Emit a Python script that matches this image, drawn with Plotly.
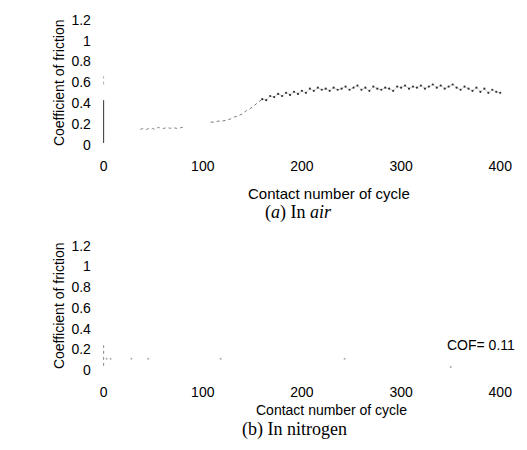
import plotly.graph_objects as go

# ---- data ----
# (a) In air
air_start_cycle = [0, 0, 0, 0]
air_start_cof = [0.02, 0.15, 0.30, 0.43]
air_start_dot_cycle = [0, 0]
air_start_dot_cof = [0.58, 0.66]

air_low_cycle = [37, 40, 43, 46, 49, 52, 55, 58, 61, 64, 67, 70, 73, 76, 79, 82]
air_low_cof = [0.15, 0.16, 0.15, 0.16, 0.16, 0.15, 0.17, 0.16, 0.16, 0.17, 0.16, 0.17, 0.16, 0.16, 0.17, 0.17]

air_rise_cycle = [108, 112, 116, 120, 124, 128, 132, 136, 140, 144, 148, 152, 156, 160]
air_rise_cof = [0.22, 0.22, 0.23, 0.23, 0.24, 0.25, 0.27, 0.28, 0.30, 0.33, 0.35, 0.38, 0.41, 0.44]

air_plateau_cycle = [160, 164, 168, 172, 176, 180, 184, 188, 192, 196, 200, 204, 208, 212, 216,
                     220, 224, 228, 232, 236, 240, 244, 248, 252, 256, 260, 264, 268, 272, 276,
                     280, 284, 288, 292, 296, 300, 304, 308, 312, 316, 320, 324, 328, 332, 336,
                     340, 344, 348, 352, 356, 360, 364, 368, 372, 376, 380, 384, 388, 392, 396, 400]
air_plateau_cof = [0.44, 0.43, 0.47, 0.46, 0.49, 0.47, 0.50, 0.48, 0.51, 0.49, 0.52, 0.50, 0.54, 0.52, 0.55,
                   0.53, 0.54, 0.52, 0.55, 0.53, 0.54, 0.56, 0.53, 0.55, 0.57, 0.53, 0.55, 0.52, 0.56, 0.54,
                   0.53, 0.55, 0.54, 0.52, 0.56, 0.55, 0.57, 0.54, 0.56, 0.55, 0.57, 0.54, 0.56, 0.58, 0.55,
                   0.57, 0.54, 0.56, 0.58, 0.55, 0.53, 0.56, 0.54, 0.52, 0.55, 0.51, 0.54, 0.50, 0.53, 0.51, 0.50]

# (b) In nitrogen
n2_start_cycle = [0, 0]
n2_start_cof = [0.04, 0.24]
n2_pts_cycle = [3, 7, 28, 45, 118, 243, 350]
n2_pts_cof = [0.11, 0.11, 0.11, 0.11, 0.11, 0.11, 0.03]

x_ticks = [0, 100, 200, 300, 400]
y_ticks = [0, 0.2, 0.4, 0.6, 0.8, 1, 1.2]
y_tick_text = ["0", "0.2", "0.4", "0.6", "0.8", "1", "1.2"]

cof_label = "COF= 0.11"

W, H = 527, 450

def py(px):
    return 1 - px / H

fig = go.Figure()

# top panel traces
fig.add_trace(go.Scatter(x=air_start_cycle, y=air_start_cof, mode="lines",
                         line=dict(color="#333", width=1), xaxis="x", yaxis="y"))
fig.add_trace(go.Scatter(x=air_start_dot_cycle, y=air_start_dot_cof, mode="lines",
                         line=dict(color="#aaa", width=1, dash="dot"), xaxis="x", yaxis="y"))
fig.add_trace(go.Scatter(x=air_low_cycle, y=air_low_cof, mode="lines",
                         line=dict(color="#888", width=1, dash="dot"), xaxis="x", yaxis="y"))
fig.add_trace(go.Scatter(x=air_rise_cycle, y=air_rise_cof, mode="lines",
                         line=dict(color="#777", width=1, dash="dot"), xaxis="x", yaxis="y"))
fig.add_trace(go.Scatter(x=air_plateau_cycle, y=air_plateau_cof, mode="lines+markers",
                         line=dict(color="#aaa", width=0.6),
                         marker=dict(color="#333", size=2.2), xaxis="x", yaxis="y"))

# bottom panel traces
fig.add_trace(go.Scatter(x=n2_start_cycle, y=n2_start_cof, mode="lines",
                         line=dict(color="#888", width=1, dash="dot"), xaxis="x2", yaxis="y2"))
fig.add_trace(go.Scatter(x=n2_pts_cycle, y=n2_pts_cof, mode="markers",
                         marker=dict(color="#aaa", size=2), xaxis="x2", yaxis="y2"))

tickfont = dict(family="Liberation Sans, Arial, sans-serif", size=14, color="black")

def xa(anchor, standoff):
    return dict(range=[-5, 405], anchor=anchor, tickvals=x_ticks, ticktext=[str(v) for v in x_ticks],
                showgrid=False, zeroline=False, showline=False, ticks="outside", ticklen=standoff,
                tickcolor="rgba(0,0,0,0)", tickfont=tickfont, domain=[100 / W, 512 / W])

def ya(anchor, d):
    return dict(range=[-0.05, 1.25], anchor=anchor, tickvals=y_ticks, ticktext=y_tick_text,
                showgrid=False, zeroline=False, showline=False, ticks="outside", ticklen=4,
                tickcolor="rgba(0,0,0,0)", tickfont=tickfont, domain=d)

fig.update_layout(
    width=W, height=H, margin=dict(l=0, r=0, t=0, b=0),
    paper_bgcolor="white", plot_bgcolor="white", showlegend=False,
    xaxis=xa("y", 3),
    yaxis=ya("x", [py(149.3), py(11.7)]),
    xaxis2=xa("y2", 4),
    yaxis2=ya("x2", [py(377.25), py(240.75)]),
)

sans = dict(family="Liberation Sans, Arial, sans-serif", size=14, color="black")
sans15 = dict(family="Liberation Sans, Arial, sans-serif", size=15, color="black")
serif = dict(family="Liberation Serif, Times New Roman, serif", size=18, color="black")

annos = [
    dict(x=60 / W, y=py(81), text="Coefficient of friction", textangle=-90, font=sans),
    dict(x=60 / W, y=py(307), text="Coefficient of friction", textangle=-90, font=sans),
    dict(x=333 / W, y=py(193), text="Contact number of cycle", font=sans15),
    dict(x=336 / W, y=py(413), text="Contact number of cycle", font=sans),
    dict(x=303 / W, y=py(212), text="(<i>a</i>) In <i>air</i>", font=serif),
    dict(x=298 / W, y=py(432), text="(b) In nitrogen", font=serif),
    dict(x=487 / W, y=py(347), text=cof_label, font=sans),
]
for a in annos:
    a.update(xref="paper", yref="paper", showarrow=False, xanchor="center", yanchor="middle")
fig.update_layout(annotations=annos)

fig.write_html("out.html")
